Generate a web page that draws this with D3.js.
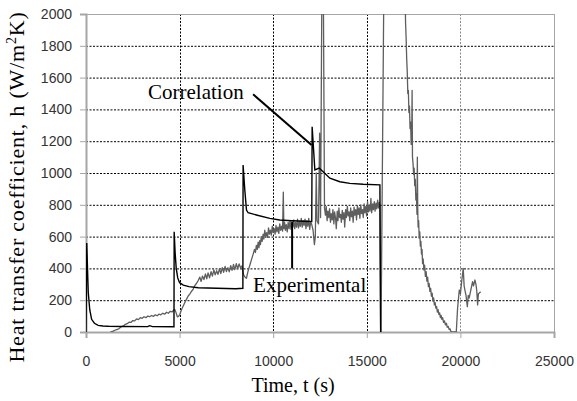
<!DOCTYPE html>
<html>
<head>
<meta charset="utf-8">
<script src="https://d3js.org/d3.v7.min.js"></script>
<style>
  body { margin: 0; background: #fff; }
  svg { display: block; }
</style>
</head>
<body>
<div id="chart"></div>
<script>
// time axis ticks (s) and h axis ticks (W/m2K)
const xTicks = [0, 5000, 10000, 15000, 20000, 25000];
const yTicks = [0, 200, 400, 600, 800, 1000, 1200, 1400, 1600, 1800, 2000];

// experimental h as [time, h]
const experimental = [
  [1300,0],[1450,6],[1600,14],[1750,20],[1900,34],[2000,38],[2100,48],[2200,52],[2300,62],[2400,60],
  [2500,72],[2600,70],[2700,82],[2800,78],[2900,90],[3000,86],[3100,96],[3200,90],[3300,100],[3400,96],
  [3500,104],[3600,98],[3700,108],[3800,102],[3900,112],[4000,108],[4100,118],[4200,112],[4300,124],[4400,118],
  [4500,130],[4600,126],[4700,140],[4750,140],[4800,125],[4880,95],[4950,100],[5010,110],[5100,140],[5200,165],
  [5300,190],[5365,205],[5450,225],[5550,240],[5650,258],[5720,268],[5800,290],[5900,305],[6000,325],[6080,345],
  [6150,318],[6220,352],[6300,330],[6380,365],[6450,335],[6520,372],[6600,340],[6680,380],[6750,352],[6830,390],
  [6900,360],[6980,385],[7050,362],[7130,398],[7200,368],[7280,405],[7350,375],[7430,412],[7500,380],[7580,405],
  [7650,378],[7730,418],[7800,388],[7880,425],[7950,392],[8030,430],[8100,398],[8180,428],[8250,405],[8330,415],
  [8420,360],[8500,345],[8570,338],[8650,380],[8750,420],[8840,455],[8930,490],
  [9000,520],[9050,500],[9100,545],[9150,520],[9195,565],[9240,530],[9280,575],[9320,550],[9360,600],[9410,570],
  [9460,615],[9500,585],[9550,640],[9600,600],[9650,625],[9700,595],[9750,655],[9800,615],[9850,640],[9900,610],
  [9950,665],[10000,625],[10050,650],[10100,615],[10150,670],[10200,630],[10250,660],[10300,620],[10350,680],[10400,640],
  [10450,665],[10500,635],[10540,880],[10570,650],[10610,690],[10650,640],[10700,675],[10750,630],[10800,690],[10850,650],
  [10900,700],[10950,645],[11000,680],[11050,660],[11100,705],[11150,650],[11200,690],[11250,660],[11300,710],[11350,655],
  [11400,695],[11450,665],[11500,715],[11550,660],[11600,700],[11650,670],[11700,710],[11750,650],[11800,700],[11850,665],
  [11900,715],[11950,645],[12000,690],[12050,680],[12130,640],[12200,550],[12250,600],[12300,1000],[12340,700],[12420,680],
  [12480,1250],[12530,720],[12600,2150],[12680,2150],[12740,780],[12790,735],[12830,790],[12880,700],[12920,760],[12970,720],
  [13010,775],[13060,690],[13100,745],[13150,705],[13190,770],[13240,680],[13280,755],[13330,715],[13370,650],[13420,760],
  [13460,700],[13510,780],[13550,720],[13600,740],[13640,690],[13690,765],[13730,710],[13780,750],[13820,660],[13870,770],
  [13910,720],[13960,790],[14000,730],[14050,755],[14090,700],[14140,780],[14180,725],[14230,760],[14270,690],[14320,785],
  [14360,735],[14410,770],[14450,705],[14500,795],[14540,740],[14590,780],[14630,715],[14680,800],[14720,745],[14770,770],
  [14810,720],[14860,805],[14900,750],[14950,790],[14990,730],[15040,820],[15080,755],[15130,800],[15170,760],[15220,840],
  [15260,750],[15310,805],[15350,770],[15400,820],[15440,760],[15490,810],[15530,775],[15580,830],[15620,780],[15670,815],
  [15700,790],[15740,0],[15760,0],[15910,2150],[17040,2150],[17070,1950],[17100,1850],[17130,1720],[17160,1640],[17190,1500],
  [17220,1520],[17250,1380],[17280,1420],[17310,1280],[17340,1320],[17370,1180],[17400,1230],[17420,1520],[17440,1100],[17470,1060],
  [17500,990],[17530,1030],[17560,920],[17590,960],[17620,830],[17650,870],[17680,740],[17700,1100],[17720,780],[17740,660],
  [17770,700],[17800,590],[17830,630],[17860,540],[17890,570],[17920,490],[17950,520],[17980,430],[18010,460],[18050,390],
  [18090,420],[18130,350],[18170,380],[18210,320],[18250,345],[18290,285],[18330,305],[18370,255],[18410,275],[18450,225],
  [18490,245],[18530,195],[18570,215],[18610,170],[18650,185],[18690,150],[18730,160],[18770,125],[18810,140],[18850,110],
  [18890,120],[18930,90],[18970,105],[19010,80],[19050,90],[19100,60],[19150,70],[19200,45],[19250,55],[19300,30],
  [19350,35],[19400,15],[19450,20],[19500,0],[19560,0],[19780,0],[19850,150],[19940,264],[20000,240],[20080,330],
  [20150,400],[20200,290],[20240,264],[20300,230],[20370,159],[20420,230],[20470,214],[20550,260],[20650,316],[20700,290],
  [20777,327],[20830,300],[20870,264],[20920,170],[20960,240],[21010,245],[21080,253]
];

// correlation h, as [time, h]
const correlation = [
  [0,0],[40,560],[80,400],[120,250],[200,140],[300,80],[450,55],[650,42],[900,38],[1200,36],
  [2000,35],[3300,34],[3400,40],[3550,34],[4700,33],[4710,630],[4760,500],[4820,400],[4900,340],[5000,310],
  [5200,295],[5500,285],[6000,278],[7000,275],[8000,272],[8380,275],[8392,1050],[8483,893],[8573,767],[8660,750],
  [9100,736],[9820,715],[10350,704],[11000,700],[12000,695],[12060,695],[12080,1291],[12135,1189],[12225,1019],[12455,1031],
  [12670,1008],[13027,967],[13560,945],[14095,935],[14806,929],[15700,925],[15740,0]
];

// annotation anchors in data units
const corrLabel = {text: "Correlation", x: 3314, y: 1465, from: [8927, 1495], to: [12048, 1176]};
const expLabel = {text: "Experimental", x: 8927, y: 253, from: [11010, 694], to: [11010, 400]};

const margin = {top: 14, right: 23, bottom: 69, left: 86},
  width = 577 - margin.left - margin.right,
  height = 401 - margin.top - margin.bottom;

const svg = d3.select("#chart")
  .append("svg")
  .attr("width", 577)
  .attr("height", 401)
  .append("g")
  .attr("transform", `translate(${margin.left},${margin.top})`);

const x = d3.scaleLinear().domain([0, 25000]).range([0, width]);
const y = d3.scaleLinear().domain([0, 2000]).range([height, 0]);

// gridlines
svg.append("g")
  .selectAll("line")
  .data(yTicks.filter(d => d > 0 && d < 2000))
  .join("line")
  .attr("x1", 0).attr("x2", width)
  .attr("y1", d => y(d) + 0.5).attr("y2", d => y(d) + 0.5)
  .attr("stroke", "#000")
  .attr("stroke-width", 1)
  .attr("stroke-dasharray", "2,1.5");

svg.append("g")
  .selectAll("line")
  .data(xTicks.filter(d => d > 0 && d < 25000))
  .join("line")
  .attr("x1", d => Math.round(x(d)) + 0.5).attr("x2", d => Math.round(x(d)) + 0.5)
  .attr("y1", 0).attr("y2", height)
  .attr("stroke", d => d === 20000 ? "#888" : "#000")
  .attr("stroke-width", 1)
  .attr("stroke-dasharray", "2,1.5");

// plot frame
svg.append("rect")
  .attr("x", 0.5).attr("y", 0.5)
  .attr("width", width).attr("height", height)
  .attr("fill", "none")
  .attr("stroke", "#a6a6a6");

// axes
const xAxis = svg.append("g")
  .attr("transform", `translate(0,${height})`)
  .call(d3.axisBottom(x).tickValues(xTicks).tickSize(6).tickPadding(18).tickFormat(d3.format("d")));
const yAxis = svg.append("g")
  .call(d3.axisLeft(y).tickValues(yTicks).tickSize(6).tickPadding(8).tickFormat(d3.format("d")));

[xAxis, yAxis].forEach(a => {
  a.select(".domain").attr("stroke", "#a6a6a6").attr("stroke-width", 2);
  a.selectAll(".tick line").attr("stroke", "#a6a6a6");
  a.selectAll(".tick text")
    .style("font-family", "'Liberation Sans', Arial, sans-serif")
    .style("font-size", "14px")
    .attr("fill", "#333");
});

// clip the series to the plot area
svg.append("clipPath").attr("id", "clip")
  .append("rect").attr("width", width).attr("height", height);

const line = d3.line()
  .x(d => x(d[0]))
  .y(d => y(d[1]));

svg.append("path")
  .datum(experimental)
  .attr("clip-path", "url(#clip)")
  .attr("fill", "none")
  .attr("stroke", "#5e5e5e")
  .attr("stroke-width", 1.3)
  .attr("stroke-linejoin", "round")
  .attr("d", line);

svg.append("path")
  .datum(correlation)
  .attr("clip-path", "url(#clip)")
  .attr("fill", "none")
  .attr("stroke", "#000")
  .attr("stroke-width", 1.4)
  .attr("d", line);

// annotations
[corrLabel, expLabel].forEach(a => {
  svg.append("text")
    .attr("x", x(a.x))
    .attr("y", y(a.y))
    .style("font-family", "'Liberation Serif', 'Times New Roman', serif")
    .style("font-size", "21px")
    .text(a.text);
  svg.append("line")
    .attr("x1", x(a.from[0])).attr("y1", y(a.from[1]))
    .attr("x2", x(a.to[0])).attr("y2", y(a.to[1]))
    .attr("stroke", "#000")
    .attr("stroke-width", 2);
});

// axis titles
svg.append("text")
  .attr("text-anchor", "middle")
  .attr("x", 207)
  .attr("y", height + 60)
  .style("font-family", "'Liberation Serif', 'Times New Roman', serif")
  .style("font-size", "20px")
  .text("Time, t (s)");

const yTitle = svg.append("text")
  .attr("text-anchor", "middle")
  .attr("transform", "rotate(-90)")
  .attr("x", -173)
  .attr("y", -62)
  .style("font-family", "'Liberation Serif', 'Times New Roman', serif")
  .style("font-size", "22px")
  .style("letter-spacing", "0.8px");
yTitle.append("tspan").text("Heat transfer coefficient, h (W/m");
yTitle.append("tspan").attr("dy", -8).style("font-size", "14px").text("2");
yTitle.append("tspan").attr("dy", 8).text("K)");
</script>
</body>
</html>
